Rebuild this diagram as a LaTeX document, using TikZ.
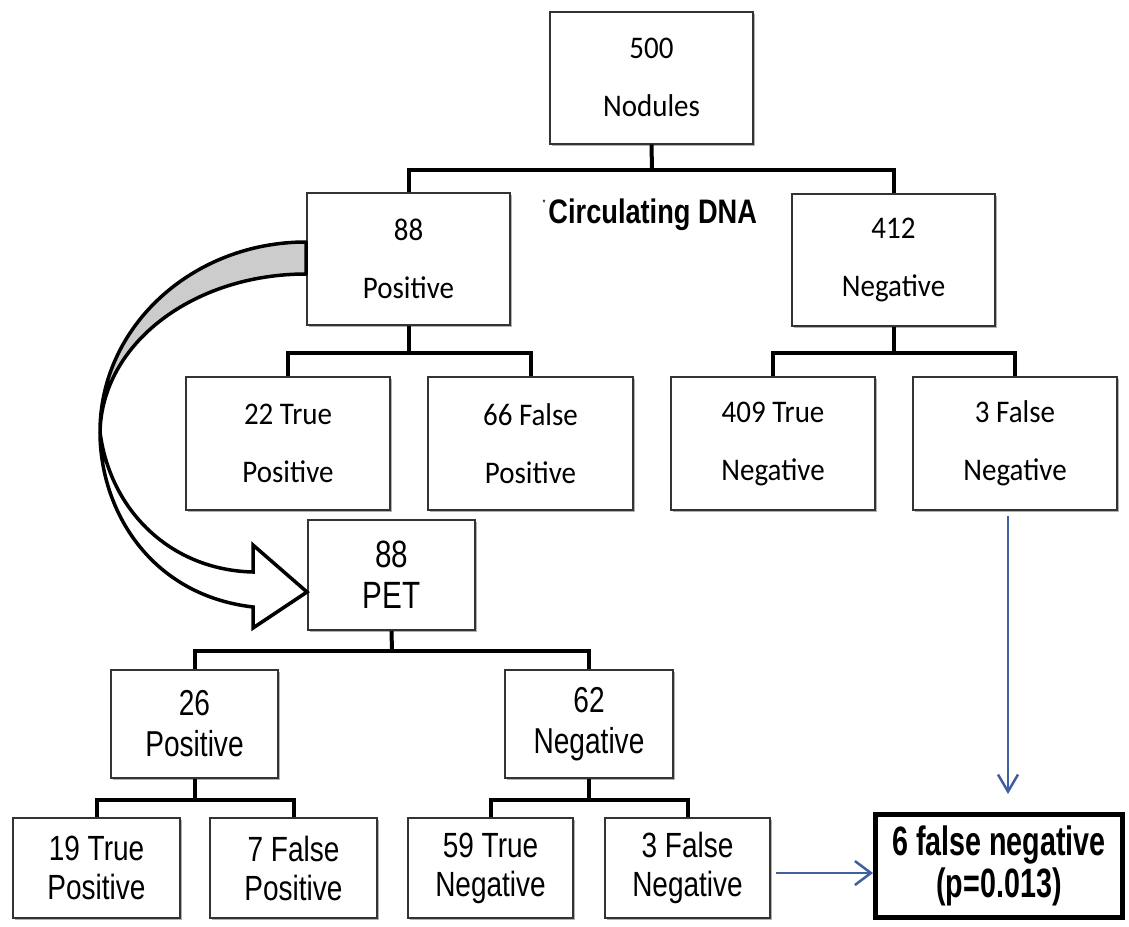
\documentclass[tikz,border=0pt]{standalone}
\usepackage{fontspec}
\setmainfont{Carlito}[FakeStretch=0.92]
\newfontfamily\narrowA[FakeStretch=0.8]{Liberation Sans}
\newfontfamily\narrowB[FakeStretch=0.78]{Liberation Sans}
\newfontfamily\narrowC[FakeStretch=0.7]{Liberation Sans}
\newfontfamily\narrowD[FakeStretch=0.8]{Liberation Sans}
\usetikzlibrary{arrows.meta,shadows,calc}
\definecolor{boxline}{HTML}{333333}
\definecolor{arrowblue}{HTML}{3F5F9F}
\definecolor{ribbongray}{HTML}{CCCCCC}
\tikzset{
  tbox/.style={draw=boxline, line width=2pt, fill=white, align=center, inner sep=0pt,
    drop shadow={shadow xshift=1.5pt, shadow yshift=-2pt, fill=gray, opacity=0.6}},
  topbox/.style={tbox, minimum width=203pt, minimum height=132pt, font=\fontsize{31.5}{58}\selectfont},
  midbox/.style={tbox, minimum width=167pt, minimum height=108pt, font=\narrowB\fontsize{36}{41}\selectfont},
  lowbox/.style={tbox, minimum width=166pt, minimum height=100pt, font=\narrowA\fontsize{35}{39}\selectfont},
  conn/.style={line width=4pt, draw=black, line join=miter},
  bluearrow/.style={line width=2.5pt, draw=arrowblue},
  ribbon/.style={line width=3.5pt, draw=black, line join=round}
}
\begin{document}
\begin{tikzpicture}[x=1pt,y=-1pt]
\useasboundingbox (0,0) rectangle (1129,926);
\fill[white] (0,0) rectangle (1129,926);

% top level
\node[topbox] (nod) at (651.5,77.5) {500\\Nodules};
\node[topbox] (pos) at (408.5,259) {88\\Positive};
\node[topbox] (neg) at (893.5,260) {412\\Negative};
\node[topbox, minimum width=204pt, minimum height=133pt] (tp) at (288,443.5) {22 True\\Positive};
\node[topbox, minimum width=205pt, minimum height=133pt] (fp) at (530.5,443.5) {66 False\\Positive};
\node[topbox, minimum width=204pt, minimum height=133pt] (tn) at (773,443.5) {409 True\\Negative};
\node[topbox, minimum width=204pt, minimum height=133pt] (fn) at (1015,443.5) {3 False\\Negative};

% PET level
\node[midbox, minimum height=110pt, font=\narrowB\fontsize{38}{41}\selectfont] (pet) at (391.5,575) {88\\PET};
\node[midbox] (pp) at (194.5,724) {26\\Positive};
\node[midbox, minimum width=168pt] (pn) at (589,724) {62\\Negative};
\node[lowbox, minimum width=167pt] (ptp) at (96.5,868) {19 True\\Positive};
\node[lowbox, minimum width=167pt] (pfp) at (293.5,868) {7 False\\Positive};
\node[lowbox, minimum width=165pt] (ptn) at (490.5,868) {59 True\\Negative};
\node[lowbox, minimum width=165pt] (pfn) at (687.5,868) {3 False\\Negative};

% result box
\node[draw=black, line width=5pt, fill=white, minimum width=247pt, minimum height=103pt,
  align=center, inner sep=0pt, font=\narrowC\bfseries\fontsize{41}{42}\selectfont]
  (six) at (999,866) {6 false negative\\(p=0.013)};

% label
\node[font=\narrowD\bfseries\fontsize{34}{36}\selectfont, inner sep=0pt] (cdna) at (650,215)
  {\raisebox{0.55em}{\fontsize{8}{8}\selectfont *}\hspace{3pt}Circulating DNA};

% tree connectors
\coordinate (j1) at (652,170);
\draw[conn] (nod.south) -- (j1);
\draw[conn] (pos.north) |- (j1);
\draw[conn] (neg.north) |- (j1);

\coordinate (j2) at (408.5,353);
\draw[conn] (pos.south) -- (j2);
\draw[conn] (tp.north) |- (j2);
\draw[conn] (fp.north) |- (j2);

\coordinate (j3) at (893.5,353);
\draw[conn] (neg.south) -- (j3);
\draw[conn] (tn.north) |- (j3);
\draw[conn] (fn.north) |- (j3);

\coordinate (j4) at (392,651);
\draw[conn] (pet.south) -- (j4);
\draw[conn] (pp.north) |- (j4);
\draw[conn] (pn.north) |- (j4);

\coordinate (j5) at (194.5,800);
\draw[conn] (pp.south) -- (j5);
\draw[conn] (ptp.north) |- (j5);
\draw[conn] (pfp.north) |- (j5);

\coordinate (j6) at (589,800);
\draw[conn] (pn.south) -- (j6);
\draw[conn] (ptn.north) |- (j6);
\draw[conn] (pfn.north) |- (j6);

% blue arrows
\coordinate (a1) at (1008,794);
\coordinate (a2) at (875,873);
\draw[bluearrow, shorten <=5pt, -{Straight Barb[length=17pt,width=20pt,line width=2.5pt]}] (fn.south -| a1) -- (a1);
\draw[bluearrow, shorten <=5pt, -{Straight Barb[length=16pt,width=24pt,line width=2.5pt]}] (pfn.east |- a2) -- (six.west |- a2);

% big curved ribbon arrow from pos to pet
\coordinate (S1) at ($(pos.west)+(0,-17)$);
\coordinate (S2) at ($(pos.west)+(0,15)$);
\coordinate (T) at ($(pet.west)+(0,17)$);
\coordinate (P) at (100,432);
\filldraw[ribbon, fill=ribbongray] (S1) .. controls (193,242) and (100,326) .. (P)
   .. controls (102,343) and (194,274) .. (S2) -- cycle;
\filldraw[ribbon, fill=white, line join=miter] (P) .. controls (110,510) and (170,570) .. (253,572)
   -- (253,545) -- (T) -- (253,628) -- (253,607)
   .. controls (150,595) and (100,510) .. (P) -- cycle;
\end{tikzpicture}
\end{document}
